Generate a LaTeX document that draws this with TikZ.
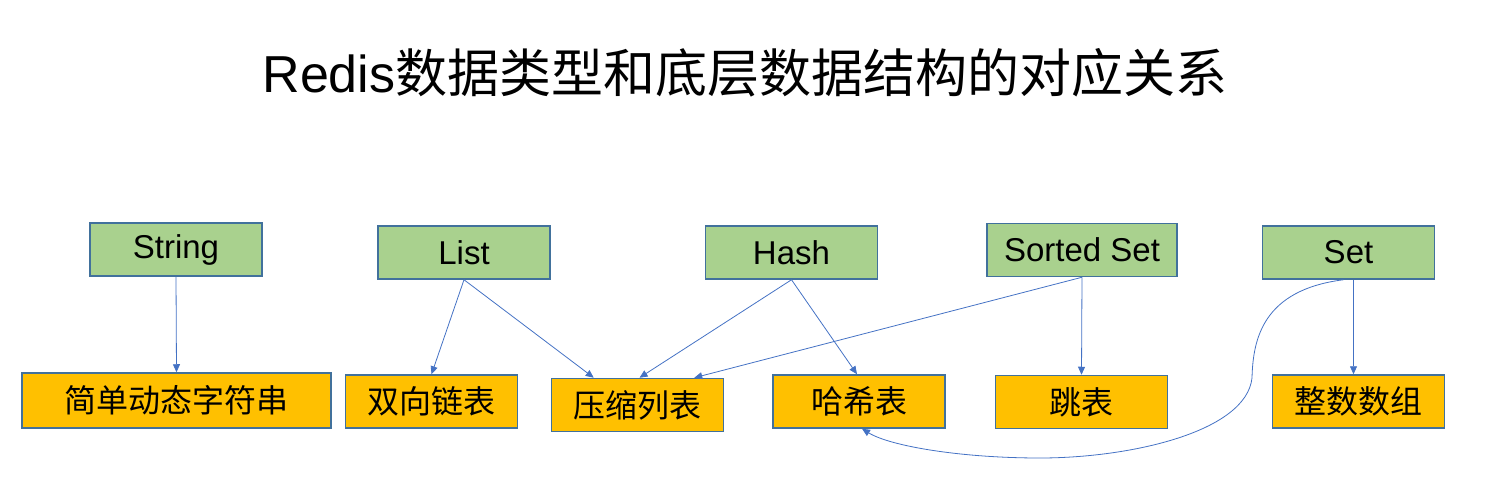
\documentclass[tikz,border=0pt]{standalone}
\usepackage{fontspec}
\setmainfont{Noto Sans CJK SC}
\newfontfamily\latinfont{Liberation Sans}
\usetikzlibrary{arrows.meta}
\definecolor{boxgreen}{HTML}{A9D18E}
\definecolor{boxorange}{HTML}{FFC000}
\definecolor{edgeblue}{HTML}{41719C}
\definecolor{linkblue}{HTML}{4472C4}
\begin{document}
\begin{tikzpicture}[x=1pt,y=-1pt,
  typebox/.style={draw=edgeblue,line width=1.5pt,fill=boxgreen,minimum width=172pt,minimum height=53pt,inner sep=0pt,font=\latinfont\fontsize{33}{37}\selectfont},
  implbox/.style={draw=edgeblue,line width=1.5pt,fill=boxorange,minimum width=172pt,minimum height=53pt,inner sep=0pt,font=\fontsize{32}{36}\selectfont},
  link/.style={draw=linkblue,line width=0.8pt,-{Triangle[width=7pt,length=8pt]}}]
\useasboundingbox (0,0) rectangle (1489,487);
\node[font=\fontsize{52}{58}\selectfont] (title) at (745,73) {{\latinfont Redis}数据类型和底层数据结构的对应关系};
% data types
\node[typebox] (string) at (176,249.5) {String};
\node[typebox] (list) at (464,252.5) {List};
\node[typebox] (hash) at (791.5,252.5) {Hash};
\node[typebox,minimum width=190pt] (zset) at (1082,250) {Sorted Set};
\node[typebox] (set) at (1348.5,252.5) {Set};
% structures
\node[implbox,minimum width=309pt,minimum height=55pt] (sds) at (176.5,400.5) {简单动态字符串};
\node[implbox] (dlist) at (431.5,401.5) {双向链表};
\node[implbox] (zip) at (637.5,405) {压缩列表};
\node[implbox] (ht) at (859,401.5) {哈希表};
\node[implbox] (skip) at (1081.5,402) {跳表};
\node[implbox] (intarr) at (1358.5,401.5) {整数数组};
% connectors
\draw[link] (string.south) -- (sds.north);
\draw[link] (list.south) -- (dlist.north);
\draw[link] (list.south) -- ([xshift=43pt]zip.north west);
\draw[link] (hash.south) -- ([xshift=2pt]zip.north);
\draw[link] (hash.south) -- ([xshift=-2pt]ht.north);
\draw[link] (zset.south) -- ([xshift=-30pt]zip.north east);
\draw[link] (zset.south) -- (skip.north);
\draw[link] ([xshift=5pt]set.south) -- ([xshift=-5pt]intarr.north);
\draw[link] ([xshift=-5pt]set.south) .. controls (1262,290) and (1253,340) .. (1252,378)
  .. controls (1246,432) and (1130,458) .. (1040,458)
  .. controls (960,458) and (890,446) .. ([xshift=3pt]ht.south);
\end{tikzpicture}
\end{document}
